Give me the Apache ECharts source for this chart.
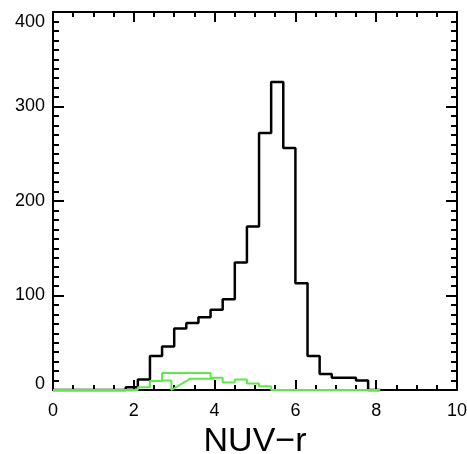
<!DOCTYPE html>
<html><head><meta charset="utf-8">
<script src="https://cdn.jsdelivr.net/npm/echarts@6/dist/echarts.min.js"></script>
<style>html,body{margin:0;padding:0;background:#fff}#c{width:467px;height:454px}</style>
</head><body><div id="c"></div>
<script>
// Histogram bins: start 0, width 0.3 (27 bins, 0 .. 8.1)
const binStart = 0;
const binWidth = 0.3;
const allCounts  = [0,0,0,0,0,0,3,11,36,46,65,71,77,85,96,135,173,272,326,256,113,36,17,13,13,10,0];
const subCountsA = [0,0,0,0,0,0,0,3,9.5,18,18,18,18,13,8,11,7,4,0,0,0,0,0,0,0,0,0];
// second green subset, traced as a polyline
const subLineBx = [2.7, 2.93, 2.93, 3.4, 4.0];
const subLineBy = [10, 10, 0, 12, 12];
const xTicks = [0, 2, 4, 6, 8, 10];
const yTicks = [0, 100, 200, 300, 400];

function stepData(counts) {
  const pts = counts.map((c, i) => [binStart + i * binWidth, c]);
  pts.push([binStart + counts.length * binWidth, 0]);
  return pts;
}
const lineB = subLineBx.map((x, i) => [x, subLineBy[i]]);

const FONT = 'Liberation Sans, Arial, Helvetica, sans-serif';
const lab = {color: '#000', fontSize: 18, fontFamily: FONT};

function axisCommon(extra) {
  return Object.assign({
    type: 'value',
    axisLine: {show: true, onZero: false, lineStyle: {color: '#000', width: 2}},
    axisTick: {show: true, inside: true, length: 10, lineStyle: {color: '#000', width: 2}},
    minorTick: {show: true, lineStyle: {color: '#000', width: 2}},
    splitLine: {show: false},
    minorSplitLine: {show: false}
  }, extra);
}

const chart = echarts.init(document.getElementById('c'), null, {renderer: 'canvas'});
chart.setOption({
  animation: false,
  backgroundColor: '#fff',
  grid: {left: 53, right: 10, top: 12, bottom: 64, containLabel: false, outerBoundsMode: 'none'},
  xAxis: [
    axisCommon({
      position: 'bottom', min: xTicks[0], max: xTicks[xTicks.length - 1], interval: 2,
      minorTick: {show: true, splitNumber: 4, length: 5, lineStyle: {color: '#000', width: 2}},
      axisLabel: Object.assign({margin: 12, showMinLabel: true, showMaxLabel: true}, lab),
      name: 'NUV\u2212r', nameLocation: 'middle', nameGap: 30,
      nameTextStyle: {color: '#000', fontSize: 34, fontFamily: FONT}
    }),
    axisCommon({
      position: 'top', min: xTicks[0], max: xTicks[xTicks.length - 1], interval: 2,
      minorTick: {show: true, splitNumber: 4, length: 5, lineStyle: {color: '#000', width: 2}},
      axisLabel: {show: false}
    })
  ],
  yAxis: [
    axisCommon({
      position: 'left', min: yTicks[0], max: yTicks[yTicks.length - 1], interval: 100,
      axisTick: {show: true, inside: true, length: 11, lineStyle: {color: '#000', width: 2}},
      minorTick: {show: true, splitNumber: 10, length: 6, lineStyle: {color: '#000', width: 2}},
      axisLabel: Object.assign({
        margin: 8,
        formatter: v => v === 400 ? '{t|400}' : (v === 0 ? '{b|0}' : String(v)),
        rich: {
          t: Object.assign({padding: [20, 0, 0, 0]}, lab),
          b: Object.assign({padding: [0, 0, 12, 0]}, lab)
        }
      }, lab)
    }),
    axisCommon({
      position: 'right', min: yTicks[0], max: yTicks[yTicks.length - 1], interval: 100,
      axisTick: {show: true, inside: true, length: 11, lineStyle: {color: '#000', width: 2}},
      minorTick: {show: true, splitNumber: 10, length: 6, lineStyle: {color: '#000', width: 2}},
      axisLabel: {show: false}
    })
  ],
  series: [
    {type: 'line', step: 'end', data: stepData(allCounts), symbol: 'none', clip: false,
     lineStyle: {color: '#000', width: 2.5}, z: 3},
    {type: 'line', step: 'end', data: stepData(subCountsA), symbol: 'none', clip: false,
     lineStyle: {color: '#5fe84a', width: 2}, z: 4},
    {type: 'line', data: lineB, symbol: 'none', clip: false,
     lineStyle: {color: '#5fe84a', width: 2}, z: 4}
  ]
});
</script></body></html>
